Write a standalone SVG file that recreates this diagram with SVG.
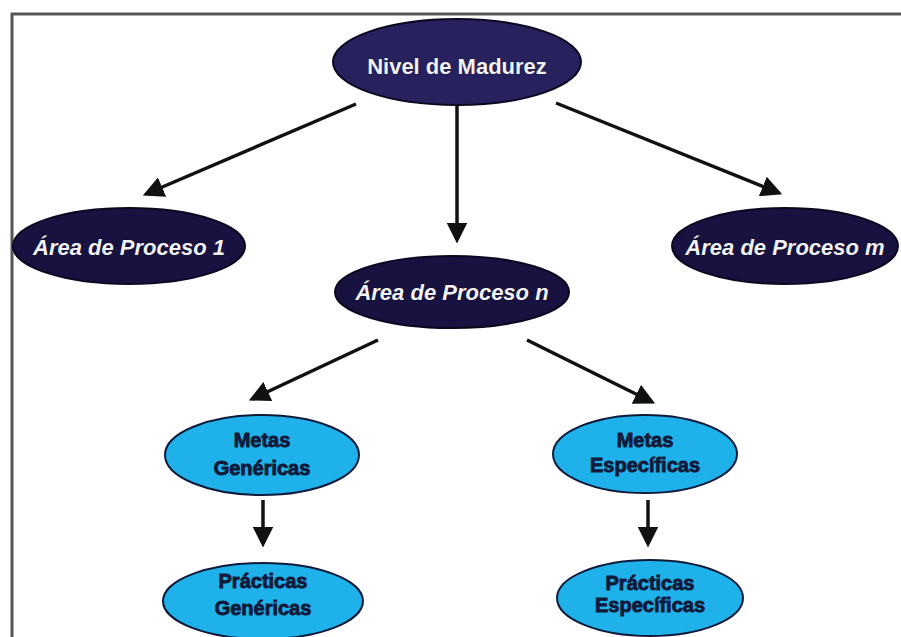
<svg xmlns="http://www.w3.org/2000/svg" width="901" height="637" viewBox="0 0 901 637">
  <style>
    .dark { fill: #17123f; stroke: #0b0920; stroke-width: 2; }
    .top { fill: #27225e; stroke: #0b0920; stroke-width: 2; }
    .light { fill: #1fb2ea; stroke: #0d1a3a; stroke-width: 2; }
    .wt { font-family: "Liberation Sans", Arial, sans-serif; font-weight: bold; fill: #f2f2f6; text-anchor: middle; stroke: #05040f; stroke-width: 0.5; paint-order: stroke; }
    .nv { font-size: 22px; }
    .it { font-style: italic; font-size: 22px; }
    .bt { font-family: "Liberation Sans", Arial, sans-serif; font-weight: bold; font-size: 20px; fill: #111a3a; text-anchor: middle; stroke: #111a3a; stroke-width: 0.9; }
    .conn line { stroke: #111; stroke-width: 3.5; marker-end: url(#head); }
  </style>
  <defs>
    <marker id="head" markerWidth="6" markerHeight="6" refX="5" refY="3" orient="auto" markerUnits="strokeWidth">
      <path d="M0,0 L6,3 L0,6 Z" fill="#111"/>
    </marker>
  </defs>
  <rect width="901" height="637" fill="#ffffff"/>
  <!-- frame -->
  <path d="M12,637 L12,14 L901,14" fill="none" stroke="#555" stroke-width="3"/>

  <g class="conn">
    <line x1="356" y1="104" x2="146" y2="194"/>
    <line x1="457" y1="102" x2="457" y2="240"/>
    <line x1="556" y1="103" x2="779" y2="193"/>
    <line x1="378" y1="340" x2="252" y2="399"/>
    <line x1="527" y1="340" x2="652" y2="402"/>
    <line x1="263" y1="500" x2="263" y2="544"/>
    <line x1="648" y1="500" x2="648" y2="544"/>
  </g>

  <g id="nivel">
    <ellipse class="top" cx="457" cy="62" rx="124" ry="43"/>
    <text class="wt nv" x="457" y="74">Nivel de Madurez</text>
  </g>
  <g id="area1">
    <ellipse class="dark" cx="129" cy="246" rx="116" ry="38"/>
    <text class="wt it" x="129" y="255">Área de Proceso 1</text>
  </g>
  <g id="aream">
    <ellipse class="dark" cx="785" cy="246" rx="113" ry="38"/>
    <text class="wt it" x="785" y="255">Área de Proceso m</text>
  </g>
  <g id="arean">
    <ellipse class="dark" cx="452" cy="292" rx="117" ry="36"/>
    <text class="wt it" x="452" y="300">Área de Proceso n</text>
  </g>
  <g id="metasGen">
    <ellipse class="light" cx="262" cy="455" rx="97" ry="40"/>
    <text class="bt" x="262" y="447">Metas</text>
    <text class="bt" x="262" y="475">Genéricas</text>
  </g>
  <g id="metasEsp">
    <ellipse class="light" cx="645" cy="454" rx="92" ry="39"/>
    <text class="bt" x="645" y="447">Metas</text>
    <text class="bt" x="645" y="472">Específicas</text>
  </g>
  <g id="practGen">
    <ellipse class="light" cx="263" cy="601" rx="100" ry="38"/>
    <text class="bt" x="263" y="588">Prácticas</text>
    <text class="bt" x="263" y="615">Genéricas</text>
  </g>
  <g id="practEsp">
    <ellipse class="light" cx="650" cy="598" rx="93" ry="38"/>
    <text class="bt" x="650" y="590">Prácticas</text>
    <text class="bt" x="650" y="612">Específicas</text>
  </g>
</svg>
